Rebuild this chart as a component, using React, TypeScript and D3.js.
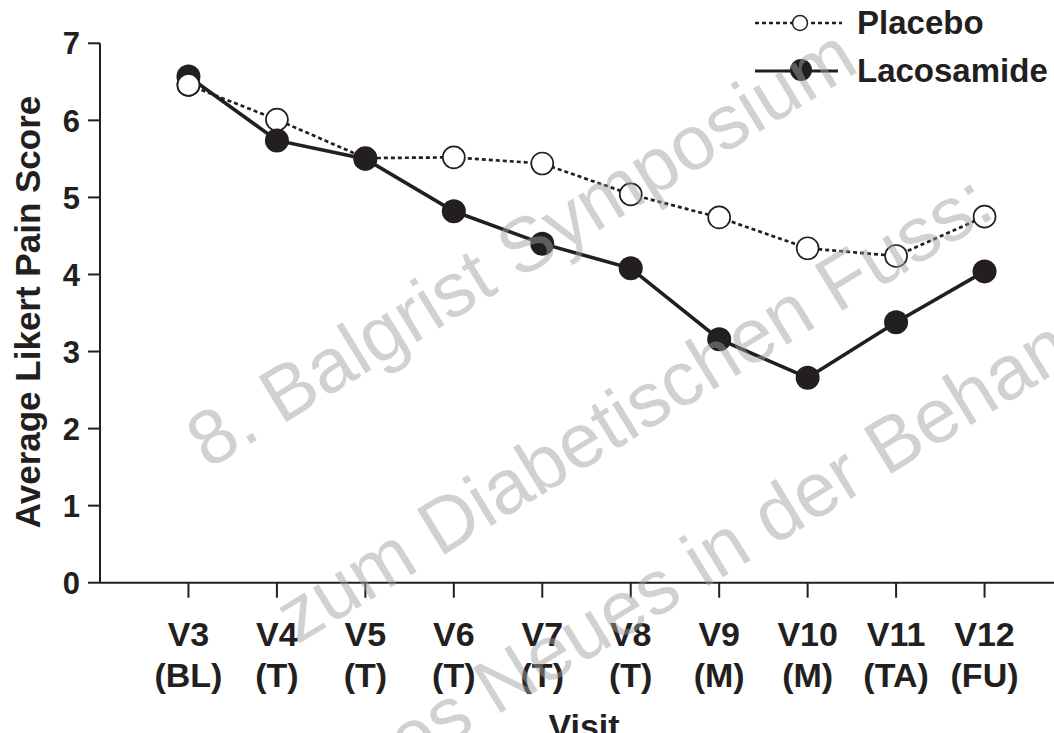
import React from 'react'
import * as d3 from 'd3'

const visits = ['V3', 'V4', 'V5', 'V6', 'V7', 'V8', 'V9', 'V10', 'V11', 'V12']
const phases = ['(BL)', '(T)', '(T)', '(T)', '(T)', '(T)', '(M)', '(M)', '(TA)', '(FU)']
const placebo = [6.46, 6.01, 5.51, 5.52, 5.44, 5.04, 4.74, 4.34, 4.24, 4.75]
const lacosamide = [6.57, 5.74, 5.5, 4.82, 4.4, 4.08, 3.16, 2.66, 3.38, 4.04]
const yTicks = [0, 1, 2, 3, 4, 5, 6, 7]
const watermark = ['8. Balgrist Symposium', 'zum Diabetischen Fuss:', 'es Neues in der Behandlung']

const W = 1054
const H = 733
const ink = '#231f20'
const font = '"Liberation Sans", Arial, Helvetica, sans-serif'

export default function App() {
  const x = d3.scalePoint<string>().domain(visits).range([100, 1073]).padding(1)
  const y = d3.scaleLinear().domain([0, 7]).range([582.7, 43.3])
  const line = d3.line<number>().x((_, i) => x(visits[i])!).y(d => y(d))

  const placeboMarker = (v: number, i: number) =>
    <circle key={'p' + i} cx={x(visits[i])} cy={y(v)} r={11} fill="white" stroke={ink} strokeWidth={1.7} />

  // watermark anchors (start of each line), rotated
  const wmPos = [[208, 470], [297, 645], [408, 770]]

  return <svg width={W} height={H} style={{ position: 'absolute', left: 0, top: 0, background: 'white' }}
              fontFamily={font}>
    {/* axes */}
    <line x1={100} x2={100} y1={y(7)} y2={y(0)} stroke={ink} strokeWidth={2} />
    <line x1={100} x2={W} y1={y(0)} y2={y(0)} stroke={ink} strokeWidth={2} />
    {yTicks.map(t => <g key={t}>
      <line x1={88} x2={100} y1={y(t)} y2={y(t)} stroke={ink} strokeWidth={2} />
      <text x={80} y={y(t)} dy="0.36em" textAnchor="end" fontSize={31} fontWeight="bold" fill={ink}>{t}</text>
    </g>)}
    {visits.map((v, i) => <g key={v}>
      <line x1={x(v)} x2={x(v)} y1={y(0)} y2={y(0) + 15} stroke={ink} strokeWidth={2} />
      <text x={x(v)} y={646} textAnchor="middle" fontSize={34} fontWeight="bold" fill={ink}>{v}</text>
      <text x={x(v)} y={687} textAnchor="middle" fontSize={34} fontWeight="bold" fill={ink}>{phases[i]}</text>
    </g>)}
    <text transform="translate(40,312) rotate(-90)" textAnchor="middle" fontSize={35} fontWeight="bold" fill={ink}>
      Average Likert Pain Score
    </text>
    <text x={584} y={738} textAnchor="middle" fontSize={34} fontWeight="bold" fill={ink}>Visit</text>

    {/* series */}
    <path d={line(placebo)!} fill="none" stroke={ink} strokeWidth={2.7} strokeDasharray="4,3" />
    <path d={line(lacosamide)!} fill="none" stroke={ink} strokeWidth={3.6} />
    {placebo.map(placeboMarker)}
    {lacosamide.map((v, i) =>
      <circle key={'l' + i} cx={x(visits[i])} cy={y(v)} r={12} fill={ink} />)}
    {placeboMarker(placebo[0], 0)}

    {/* legend */}
    <line x1={755} x2={842} y1={23} y2={23} stroke={ink} strokeWidth={2.5} strokeDasharray="4,3" />
    <circle cx={800} cy={23} r={7.5} fill="white" stroke={ink} strokeWidth={1.5} />
    <text x={857} y={34} fontSize={33} fontWeight="bold" fill={ink}>Placebo</text>
    <line x1={755} x2={838} y1={71} y2={71} stroke={ink} strokeWidth={3} />
    <circle cx={801} cy={70} r={11} fill={ink} />
    <text x={857} y={82} fontSize={33} fontWeight="bold" fill={ink}>Lacosamide</text>

    {/* watermark */}
    <g fill="#a0a0a0" opacity={0.48} fontSize={77}>
      {watermark.map((t, i) =>
        <text key={i} transform={`translate(${wmPos[i][0]},${wmPos[i][1]}) rotate(-31.5)`}>{t}</text>)}
    </g>
  </svg>
}
